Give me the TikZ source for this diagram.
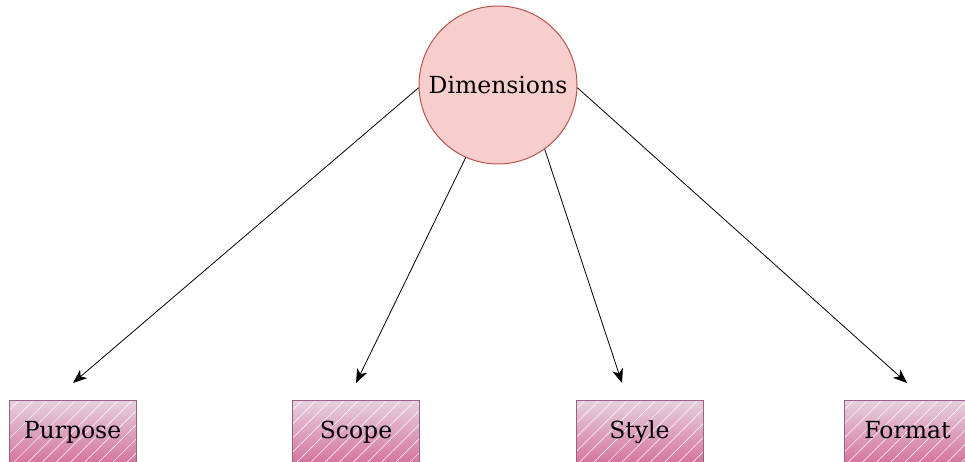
\documentclass[tikz,border=0pt]{standalone}
\usepackage{fontspec}
\setmainfont{DejaVu Serif}
\usetikzlibrary{arrows.meta,patterns.meta,shadings}
\definecolor{circfill}{HTML}{F8CECC}
\definecolor{circline}{HTML}{B85450}
\definecolor{boxtop}{HTML}{E6D0DE}
\definecolor{boxbot}{HTML}{D5739D}
\definecolor{boxline}{HTML}{996185}
\tikzset{
  txt/.style={font=\fontsize{23.5}{28}\selectfont, text=black},
  hub/.style={txt, circle, draw=circline, fill=circfill, line width=1pt, minimum size=158pt, inner sep=0pt},
  leaf/.style={txt, rectangle, top color=boxtop, bottom color=boxbot,
    minimum width=127pt, minimum height=64pt, inner sep=0pt, text height=17pt, text depth=5pt,
    postaction={pattern={Lines[angle=45,distance=10pt,line width=0.5pt]}, pattern color=white, fill opacity=0.25},
    postaction={draw=boxline, line width=1pt}},
  conn/.style={line width=0.8pt, -{Stealth[length=14pt,width=11pt,inset=4pt]}}
}
\begin{document}
\begin{tikzpicture}[x=1pt,y=-1pt]
\useasboundingbox (0,0) rectangle (965,462);
\node[hub] (dim) at (498,85) {Dimensions};
\node[leaf] (purpose) at (72.5,432) {Purpose};
\node[leaf] (scope) at (356,432) {Scope};
\node[leaf] (style) at (639.5,432) {Style};
\node[leaf] (format) at (907.5,432) {Format};
\coordinate (tp) at (73,383);
\coordinate (ts) at (356,383);
\coordinate (tt) at (622,383);
\coordinate (tf) at (907,383);
\draw[conn] (dim.182) -- (tp);
\draw[conn] (dim.-114) -- (ts);
\draw[conn] (dim.-54) -- (tt);
\draw[conn] (dim.-2) -- (tf);
\end{tikzpicture}
\end{document}
